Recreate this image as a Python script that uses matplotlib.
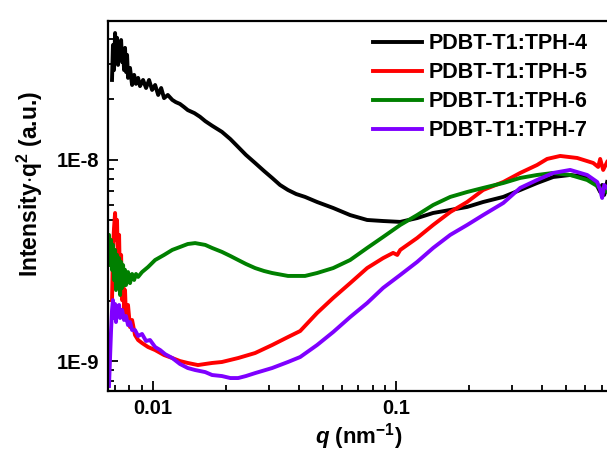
import matplotlib
matplotlib.use("Agg")
import matplotlib.pyplot as plt
from matplotlib.ticker import LogLocator, FixedLocator, FixedFormatter, NullFormatter

plt.rcParams['font.family'] = ['Liberation Sans', 'DejaVu Sans']
plt.rcParams['font.weight'] = 'bold'
plt.rcParams['mathtext.fontset'] = 'custom'
plt.rcParams['mathtext.rm'] = 'Liberation Sans:bold'
plt.rcParams['mathtext.it'] = 'Liberation Sans:bold:italic'
plt.rcParams['mathtext.bf'] = 'Liberation Sans:bold'

labels = ["PDBT-T1:TPH-4", "PDBT-T1:TPH-5", "PDBT-T1:TPH-6", "PDBT-T1:TPH-7"]
colors = ["#000000", "#ff0000", "#008000", "#7f00ff"]

# PDBT-T1:TPH-4
q4 = [0.00678, 0.00684, 0.00691, 0.00698, 0.00704, 0.00711, 0.00718, 0.00725, 0.00732, 0.00739,
      0.00746, 0.00753, 0.00760, 0.00767, 0.00774, 0.00782, 0.00789, 0.00804, 0.00820, 0.00836,
      0.00851, 0.00868, 0.00884, 0.00910, 0.00936, 0.00963, 0.00991, 0.0102, 0.0105, 0.0108,
      0.0111, 0.0115, 0.0120, 0.0124, 0.0129, 0.0134, 0.0139, 0.0148, 0.0156, 0.0164,
      0.0175, 0.0192, 0.0208, 0.0224, 0.0241, 0.0263, 0.0286, 0.0309, 0.0333, 0.0359,
      0.0388, 0.0422, 0.0473, 0.0551, 0.0647, 0.0760, 0.0884, 0.104, 0.122, 0.142,
      0.167, 0.196, 0.228, 0.276, 0.324, 0.380, 0.443, 0.520, 0.611, 0.659,
      0.691, 0.704, 0.718, 0.738]
i4 = [2.50e-8, 3.73e-8, 2.80e-8, 4.28e-8, 3.145e-8, 4.05e-8, 2.97e-8, 3.86e-8, 3.22e-8, 3.95e-8,
      3.07e-8, 3.53e-8, 2.80e-8, 3.61e-8, 2.74e-8, 3.33e-8, 2.56e-8, 2.87e-8, 2.36e-8, 2.65e-8,
      2.39e-8, 2.56e-8, 2.33e-8, 2.50e-8, 2.28e-8, 2.50e-8, 2.23e-8, 2.36e-8, 2.105e-8, 2.28e-8,
      2.03e-8, 2.105e-8, 1.99e-8, 1.94e-8, 1.90e-8, 1.835e-8, 1.77e-8, 1.71e-8, 1.64e-8, 1.56e-8,
      1.48e-8, 1.38e-8, 1.27e-8, 1.16e-8, 1.06e-8, 0.966e-8, 0.882e-8, 0.814e-8, 0.751e-8, 0.709e-8,
      0.677e-8, 0.655e-8, 0.618e-8, 0.577e-8, 0.532e-8, 0.503e-8, 0.497e-8, 0.492e-8, 0.514e-8, 0.545e-8,
      0.564e-8, 0.584e-8, 0.618e-8, 0.655e-8, 0.709e-8, 0.768e-8, 0.823e-8, 0.842e-8, 0.823e-8, 0.777e-8,
      0.693e-8, 0.751e-8, 0.670e-8, 0.777e-8]

# PDBT-T1:TPH-5
q5 = [0.00678, 0.00684, 0.00691, 0.00698, 0.00704, 0.00711, 0.00718, 0.00725, 0.00732, 0.00739,
      0.00746, 0.00753, 0.00760, 0.00767, 0.00774, 0.00789, 0.00804, 0.00820, 0.00843, 0.00868,
      0.00901, 0.00954, 0.0102, 0.0111, 0.0120, 0.0129, 0.0139, 0.0153, 0.0164, 0.0175,
      0.0192, 0.0224, 0.0263, 0.0309, 0.0359, 0.0403, 0.0473, 0.0551, 0.0647, 0.0760,
      0.0884, 0.0972, 0.1011, 0.104, 0.122, 0.142, 0.167, 0.196, 0.228, 0.276,
      0.324, 0.380, 0.418, 0.473, 0.556, 0.647, 0.678, 0.691, 0.711, 0.738]
i5 = [0.201e-8, 0.357e-8, 0.459e-8, 0.545e-8, 0.400e-8, 0.503e-8, 0.284e-8, 0.424e-8, 0.2255e-8, 0.337e-8,
      0.201e-8, 0.290e-8, 0.1794e-8, 0.2255e-8, 0.1637e-8, 0.190e-8, 0.1476e-8, 0.160e-8, 0.1347e-8, 0.1272e-8,
      0.1229e-8, 0.1174e-8, 0.1134e-8, 0.1071e-8, 0.1035e-8, 0.1000e-8, 0.0978e-8, 0.0955e-8, 0.0967e-8, 0.0978e-8,
      0.0989e-8, 0.1035e-8, 0.1096e-8, 0.1201e-8, 0.1316e-8, 0.1410e-8, 0.1733e-8, 0.206e-8, 0.244e-8, 0.290e-8,
      0.325e-8, 0.345e-8, 0.337e-8, 0.357e-8, 0.409e-8, 0.475e-8, 0.551e-8, 0.618e-8, 0.709e-8, 0.777e-8,
      0.862e-8, 0.944e-8, 1.012e-8, 1.047e-8, 1.023e-8, 0.966e-8, 0.923e-8, 1.012e-8, 0.892e-8, 0.977e-8]

# PDBT-T1:TPH-6
q6 = [0.00653, 0.00659, 0.00665, 0.00672, 0.00678, 0.00684, 0.00691, 0.00698, 0.00704, 0.00711,
      0.00718, 0.00725, 0.00732, 0.00739, 0.00746, 0.00753, 0.00760, 0.00767, 0.00774, 0.00789,
      0.00804, 0.00820, 0.00836, 0.00851, 0.00868, 0.00901, 0.00954, 0.0102, 0.0111, 0.0120,
      0.0129, 0.0139, 0.0149, 0.0164, 0.0175, 0.0192, 0.0208, 0.0224, 0.0241, 0.0263,
      0.0286, 0.0309, 0.0359, 0.0422, 0.0473, 0.0551, 0.0647, 0.0760, 0.0884, 0.104,
      0.122, 0.142, 0.167, 0.196, 0.228, 0.276, 0.324, 0.380, 0.443, 0.520,
      0.611, 0.672, 0.711, 0.738]
i6 = [0.337e-8, 0.424e-8, 0.300e-8, 0.400e-8, 0.284e-8, 0.378e-8, 0.253e-8, 0.357e-8, 0.2255e-8, 0.337e-8,
      0.2388e-8, 0.325e-8, 0.213e-8, 0.311e-8, 0.231e-8, 0.300e-8, 0.2388e-8, 0.284e-8, 0.2388e-8, 0.277e-8,
      0.244e-8, 0.271e-8, 0.253e-8, 0.271e-8, 0.262e-8, 0.277e-8, 0.2935e-8, 0.318e-8, 0.337e-8, 0.357e-8,
      0.369e-8, 0.382e-8, 0.386e-8, 0.378e-8, 0.365e-8, 0.349e-8, 0.333e-8, 0.318e-8, 0.304e-8, 0.290e-8,
      0.2805e-8, 0.274e-8, 0.265e-8, 0.265e-8, 0.274e-8, 0.290e-8, 0.318e-8, 0.365e-8, 0.414e-8, 0.475e-8,
      0.532e-8, 0.597e-8, 0.655e-8, 0.693e-8, 0.726e-8, 0.768e-8, 0.814e-8, 0.842e-8, 0.862e-8, 0.842e-8,
      0.795e-8, 0.742e-8, 0.709e-8, 0.693e-8]

# PDBT-T1:TPH-7
q7 = [0.00659, 0.00665, 0.00672, 0.00678, 0.00684, 0.00691, 0.00698, 0.00704, 0.00711, 0.00718,
      0.00725, 0.00732, 0.00746, 0.00760, 0.00774, 0.00789, 0.00804, 0.00820, 0.00843, 0.00868,
      0.00901, 0.00936, 0.00972, 0.0102, 0.0107, 0.0112, 0.0120, 0.0129, 0.0139, 0.0149,
      0.0164, 0.0175, 0.0192, 0.0208, 0.0224, 0.0241, 0.0263, 0.0309, 0.0359, 0.0403,
      0.0473, 0.0551, 0.0647, 0.0760, 0.0884, 0.104, 0.122, 0.142, 0.167, 0.196,
      0.228, 0.276, 0.324, 0.380, 0.443, 0.520, 0.611, 0.672, 0.691, 0.704,
      0.718, 0.738]
i7 = [0.0751e-8, 0.1012e-8, 0.1426e-8, 0.1794e-8, 0.201e-8, 0.1637e-8, 0.1921e-8, 0.1563e-8, 0.1877e-8, 0.1675e-8,
      0.190e-8, 0.1637e-8, 0.1794e-8, 0.160e-8, 0.1675e-8, 0.151e-8, 0.1563e-8, 0.1426e-8, 0.1426e-8, 0.1332e-8,
      0.1363e-8, 0.1258e-8, 0.1272e-8, 0.1174e-8, 0.1134e-8, 0.1083e-8, 0.1035e-8, 0.0967e-8, 0.0923e-8, 0.0902e-8,
      0.0881e-8, 0.0852e-8, 0.0842e-8, 0.0823e-8, 0.0823e-8, 0.0842e-8, 0.0871e-8, 0.0923e-8, 0.0989e-8, 0.1047e-8,
      0.1201e-8, 0.1394e-8, 0.1655e-8, 0.1943e-8, 0.231e-8, 0.268e-8, 0.311e-8, 0.365e-8, 0.424e-8, 0.475e-8,
      0.532e-8, 0.611e-8, 0.726e-8, 0.795e-8, 0.862e-8, 0.892e-8, 0.842e-8, 0.777e-8, 0.709e-8, 0.647e-8,
      0.751e-8, 0.726e-8]

x_ticks = [0.01, 0.1]
x_ticklabels = ["0.01", "0.1"]
y_ticks = [1e-9, 1e-8]
y_ticklabels = ["1E-9", "1E-8"]

fig = plt.figure(figsize=(6.07, 4.53), dpi=100)
ax = fig.add_axes([0.178, 0.137, 0.825, 0.817])

for q, i, c, lab in zip([q4, q5, q6, q7], [i4, i5, i6, i7], colors, labels):
    ax.plot(q, i, color=c, lw=2.8, label=lab, solid_joinstyle='round')

ax.set_xscale('log')
ax.set_yscale('log')
ax.set_xlim(0.00653, 0.75)
ax.set_ylim(7.1e-10, 4.92e-8)

ax.xaxis.set_major_locator(FixedLocator(x_ticks))
ax.xaxis.set_major_formatter(FixedFormatter(x_ticklabels))
ax.xaxis.set_minor_locator(LogLocator(base=10, subs=range(2, 10)))
ax.xaxis.set_minor_formatter(NullFormatter())
ax.yaxis.set_major_locator(FixedLocator(y_ticks))
ax.yaxis.set_major_formatter(FixedFormatter(y_ticklabels))
ax.yaxis.set_minor_locator(LogLocator(base=10, subs=range(2, 10)))
ax.yaxis.set_minor_formatter(NullFormatter())

ax.tick_params(which='both', direction='in', top=False, right=False, width=1.3)
ax.tick_params(which='major', length=7, labelsize=14.5, pad=6)
ax.tick_params(which='minor', length=4)
for sp in ax.spines.values():
    sp.set_linewidth(1.6)
for t in ax.get_xticklabels() + ax.get_yticklabels():
    t.set_fontweight('bold')

ax.set_xlabel(r'$\mathit{q}$ (nm$^{\mathregular{-1}}$)', fontsize=16, fontweight='bold', labelpad=2)
ax.set_ylabel(r'Intensity$\cdot$q$^{\mathregular{2}}$ (a.u.)', fontsize=16.5, fontweight='bold')
ax.yaxis.set_label_coords(-0.126, 0.56)

leg = ax.legend(loc='upper right', bbox_to_anchor=(0.975, 0.99), frameon=False,
                handlelength=2.3, handletextpad=0.3, labelspacing=0.37,
                borderaxespad=0.0, prop={'weight': 'bold', 'size': 15.5})
for h in leg.get_lines():
    h.set_linewidth(2.8)

fig.savefig('out.png', dpi=100)
